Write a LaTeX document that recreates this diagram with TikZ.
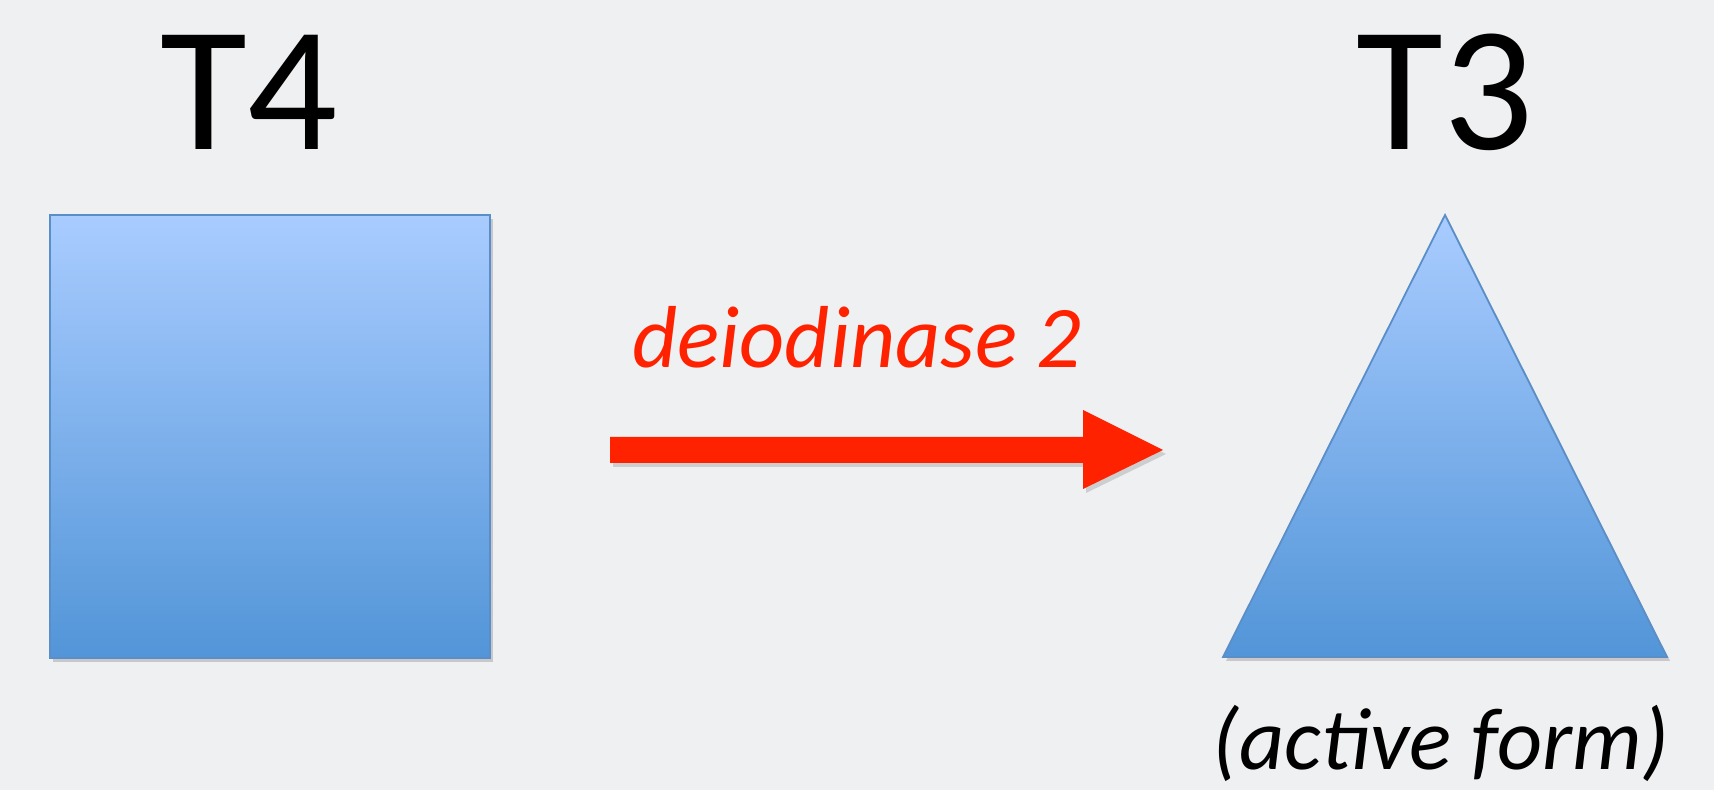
\documentclass[tikz,border=0pt]{standalone}
\usepackage{fontspec}
\setmainfont{Carlito}
\usetikzlibrary{shadows,calc}
\definecolor{bggray}{HTML}{EFF0F2}
\definecolor{blutop}{HTML}{A9CCFF}
\definecolor{blubot}{HTML}{5295D8}
\definecolor{bluline}{HTML}{5A8EC8}
\definecolor{enzred}{HTML}{FF2200}
\tikzset{
  hormone/.style={draw=bluline, line width=1.8pt, top color=blutop, bottom color=blubot,
    drop shadow={shadow xshift=3pt, shadow yshift=-4pt, opacity=.35}},
  biglabel/.style={anchor=base, inner sep=0, font=\fontsize{178}{178}\selectfont},
  smalllabel/.style={anchor=base, inner sep=0, font=\fontsize{88}{88}\selectfont\itshape}
}
\begin{document}
\begin{tikzpicture}[x=1pt,y=1pt]
\fill[bggray] (0,0) rectangle (1714,790);
\useasboundingbox (0,0) rectangle (1714,790);
% T4 : square
\node[biglabel] (t4) at (249,640) {T4};
\draw[hormone] (50,132) rectangle (490,575);
% T3 : triangle
\node[biglabel] (t3) at (1445,640) {T3};
\draw[hormone] (1445,575) -- (1667,133) -- (1223,133) -- cycle;
\node[smalllabel] (active) at (1441,20) {(active form)};
% enzyme arrow
\coordinate (start) at (610,340);
\coordinate (tip) at (1163,340);
\fill[enzred, drop shadow={shadow xshift=3pt, shadow yshift=-4pt, opacity=.3}]
  ($(start)+(0,13)$) -- (1083,353) -- (1083,380) -- (tip) -- (1083,301) -- (1083,327) -- ($(start)+(0,-13)$) -- cycle;
\node[smalllabel, text=enzred] (enz) at (857,422) {deiodinase 2};
\end{tikzpicture}
\end{document}
